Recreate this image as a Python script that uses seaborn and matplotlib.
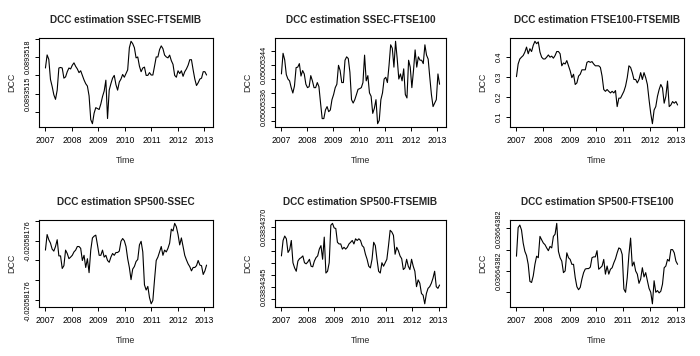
import numpy as np
import pandas as pd
import seaborn as sns
import matplotlib.pyplot as plt

# DCC series (values in axis tick units for the
# panels whose tick labels are all the same rounded number)
sse_ftsemib = [2.40, 3.11, 2.87, 1.78, 1.40, 0.95, 0.70, 1.20, 2.40, 2.43, 2.40, 1.85, 1.92, 2.20, 2.40, 2.35,
               2.55, 2.68, 2.49, 2.35, 2.15, 2.25, 2.00, 1.75, 1.55, 1.42, 0.89, -0.40, -0.62, -0.05, 0.25, 0.20,
               0.15, 0.45, 0.85, 1.15, 1.74, -0.34, 1.20, 1.55, 1.85, 2.00, 1.50, 1.20, 1.64, 1.80, 2.05, 1.90,
               2.10, 2.30, 3.50, 3.85, 3.72, 3.50, 2.95, 3.00, 2.50, 2.20, 2.40, 2.45, 2.00, 2.00, 2.15, 2.02,
               2.02, 2.50, 3.00, 3.00, 3.40, 3.60, 3.45, 3.10, 3.00, 2.95, 3.10, 2.80, 2.60, 2.00, 1.90, 2.25,
               2.10, 2.25, 1.95, 2.20, 2.35, 2.55, 2.85, 2.85, 2.30, 1.80, 1.45, 1.60, 1.80, 1.85, 2.20, 2.20, 2.02]
sse_ftse100 = [3.35, 4.81, 4.35, 3.30, 2.99, 2.86, 2.38, 2.00, 2.50, 3.80, 3.83, 4.08, 3.20, 3.59, 3.35, 2.62,
               2.38, 2.45, 3.23, 2.86, 2.38, 2.38, 2.74, 2.45, 1.29, 0.19, 0.19, 0.80, 1.04, 0.68, 0.80, 1.53,
               1.89, 2.38, 2.62, 3.96, 3.59, 2.74, 2.74, 4.32, 4.56, 4.44, 3.47, 1.53, 1.29, 1.53, 1.89, 2.26,
               2.31, 2.38, 2.74, 4.68, 2.86, 3.23, 2.01, 1.77, 0.56, 0.92, 1.53, -0.17, 0.07, 1.53, 2.01, 2.99,
               3.11, 2.74, 3.96, 5.41, 5.17, 3.83, 5.66, 4.44, 2.99, 3.35, 2.86, 3.71, 1.89, 1.65, 4.32, 3.83,
               2.38, 3.59, 5.05, 3.83, 4.56, 4.32, 4.32, 4.08, 5.41, 4.68, 4.40, 3.11, 1.89, 1.04, 1.29, 1.53,
               3.35, 2.62]
ftse100_ftsemib = [0.300, 0.363, 0.388, 0.397, 0.405, 0.422, 0.447, 0.414, 0.439, 0.425, 0.456, 0.476, 0.464,
                   0.473, 0.422, 0.397, 0.388, 0.388, 0.397, 0.408, 0.397, 0.402, 0.392, 0.405, 0.425, 0.425,
                   0.414, 0.354, 0.368, 0.363, 0.380, 0.354, 0.329, 0.295, 0.312, 0.261, 0.269, 0.303, 0.312,
                   0.334, 0.334, 0.334, 0.371, 0.376, 0.371, 0.375, 0.363, 0.354, 0.354, 0.354, 0.346, 0.303,
                   0.236, 0.227, 0.236, 0.227, 0.219, 0.227, 0.219, 0.231, 0.151, 0.193, 0.193, 0.210, 0.227,
                   0.253, 0.295, 0.354, 0.346, 0.320, 0.286, 0.286, 0.269, 0.286, 0.320, 0.286, 0.320, 0.295,
                   0.261, 0.185, 0.117, 0.066, 0.134, 0.151, 0.202, 0.236, 0.261, 0.244, 0.168, 0.202, 0.278,
                   0.151, 0.159, 0.176, 0.168, 0.176, 0.159]
sp500_ssec = [2.52, 3.30, 3.04, 2.87, 2.57, 2.47, 2.70, 3.04, 2.23, 2.23, 1.60, 1.74, 2.52, 2.35, 2.09, 2.17,
              2.26, 2.43, 2.52, 2.70, 2.70, 2.61, 2.00, 2.26, 1.65, 2.09, 1.39, 2.52, 3.13, 3.22, 3.27, 2.78,
              2.26, 2.26, 2.52, 2.17, 2.26, 2.00, 1.91, 2.17, 2.35, 2.26, 2.40, 2.40, 2.47, 2.96, 3.10, 2.99,
              2.70, 2.09, 1.65, 1.04, 1.57, 1.70, 1.95, 2.05, 2.78, 2.96, 2.43, 0.78, 0.52, 0.70, 0.14, -0.17,
              0.00, 1.04, 2.00, 2.17, 2.43, 2.70, 2.26, 2.52, 2.43, 2.61, 2.87, 3.57, 3.48, 3.86, 3.69, 3.30,
              2.78, 3.13, 2.70, 2.26, 2.03, 1.83, 1.69, 1.48, 1.65, 1.65, 1.74, 2.00, 1.77, 1.74, 1.30, 1.48, 1.77]
sp500_ftsemib = [3.57, 4.86, 5.23, 5.00, 3.86, 4.09, 4.86, 3.00, 2.57, 2.29, 3.14, 3.34, 3.43, 3.57, 3.00, 2.91,
                 3.06, 3.29, 2.71, 2.66, 3.14, 3.43, 3.57, 4.14, 4.43, 3.29, 5.14, 2.14, 2.29, 3.00, 6.14, 6.29,
                 5.91, 5.86, 4.71, 4.57, 4.57, 4.14, 4.29, 4.14, 4.29, 4.57, 4.71, 4.86, 4.57, 5.00, 4.86, 5.00,
                 4.86, 4.43, 4.29, 3.71, 3.29, 2.71, 2.57, 3.29, 4.71, 4.43, 3.29, 2.29, 2.14, 3.00, 2.71, 3.00,
                 3.29, 4.43, 5.71, 5.57, 5.29, 3.71, 4.29, 4.00, 3.57, 3.34, 2.43, 2.57, 3.29, 2.71, 2.43, 3.29,
                 2.71, 2.29, 1.00, 1.57, 1.29, 0.43, 0.29, -0.43, 0.43, 0.86, 1.00, 1.29, 1.71, 2.29, 1.00, 0.86, 1.14]
sp500_ftse100 = [1.69, 3.03, 3.15, 2.92, 2.31, 1.92, 1.72, 1.31, 0.51, 0.46, 0.77, 1.31, 1.69, 1.62, 2.62, 2.46,
                 2.31, 2.23, 2.08, 1.95, 2.15, 2.08, 2.62, 2.72, 3.23, 1.92, 1.62, 1.46, 0.92, 1.00, 1.85, 1.62,
                 1.54, 1.31, 1.31, 0.69, 0.26, 0.12, 0.23, 0.62, 0.92, 1.09, 1.11, 1.11, 1.18, 1.62, 1.66, 1.66,
                 1.95, 1.08, 1.15, 1.23, 1.54, 0.85, 1.23, 0.85, 1.08, 1.15, 1.38, 1.57, 1.85, 2.08, 2.03, 1.77,
                 0.15, 0.00, 0.69, 1.77, 2.54, 1.23, 1.42, 1.00, 0.85, 0.42, 0.62, 1.15, 0.72, 0.92, 0.54, 0.18,
                 0.00, -0.54, 0.54, 0.00, 0.08, -0.03, 0.05, 0.38, 1.15, 1.23, 1.54, 1.46, 2.00, 2.00, 1.85, 1.46, 1.31]

# last observation date of each series
end_years = [2013.08, 2013.10, 2013.04, 2013.08, 2013.04, 2013.04]

titles = ['DCC estimation SSEC-FTSEMIB', 'DCC estimation SSEC-FTSE100', 'DCC estimation FTSE100-FTSEMIB',
          'DCC estimation SP500-SSEC', 'DCC estimation SP500-FTSEMIB', 'DCC estimation SP500-FTSE100']
series = [sse_ftsemib, sse_ftse100, ftse100_ftsemib, sp500_ssec, sp500_ftsemib, sp500_ftse100]

# y ticks and the labels R managed to print on them
ytick_pos = [[0, 1, 2, 3, 4], [0, 1, 2, 3, 4, 5], [0.1, 0.2, 0.3, 0.4],
             [0, 1, 2, 3, 4], [0, 1, 2, 3, 4, 5, 6], [0, 1, 2, 3]]
ytick_lab = [['', '0.0893515', '', '0.0893518', ''],
             ['', '0.05005336', '', '', '0.05005344', ''],
             ['0.1', '0.2', '0.3', '0.4'],
             ['-0.02058176', '', '', '-0.02058176', ''],
             ['', '0.03834345', '', '', '', '', '0.03834370'],
             ['', '0.03664382', '', '0.03664382']]
years = [2007, 2008, 2009, 2010, 2011, 2012, 2013]

sns.set_style('ticks')
plt.rcParams['font.family'] = ['Liberation Sans', 'DejaVu Sans']
plt.rcParams['axes.linewidth'] = 0.8

fig = plt.figure(figsize=(7, 3.56), dpi=100)
lefts = [0.0557, 0.393, 0.7286]
widths = [0.2486, 0.244, 0.2486]
bottoms = [0.6433, 0.1376]
heights = [0.25, 0.244]

for i, (vals, title) in enumerate(zip(series, titles)):
    r, c = divmod(i, 3)
    ax = fig.add_axes([lefts[c], bottoms[r], widths[c], heights[r]])
    df = pd.DataFrame({'Time': np.linspace(2007, end_years[i], len(vals)), 'DCC': vals})
    sns.lineplot(data=df, x='Time', y='DCC', ax=ax, color='black', linewidth=0.8)
    ax.margins(x=0.04, y=0.04)
    ax.set_xticks(years)
    ax.set_xticklabels([str(y) for y in years])
    ax.set_yticks(ytick_pos[i])
    ax.set_yticklabels(ytick_lab[i], rotation=90, va='center')
    ax.tick_params(axis='both', labelsize=6.2, length=3, width=0.7, colors='black', pad=3.5)
    ax.tick_params(axis='y', labelsize=5.4 if i == 2 else 5.2, pad=2.5)
    for s in ax.spines.values():
        s.set_visible(True)
        s.set_color('black')
    ax.set_title(title, fontsize=7.2, fontweight='bold', pad=11)
    ax.set_xlabel('Time', fontsize=6.4, labelpad=8)
    ax.set_ylabel('DCC', fontsize=6.4, labelpad=6)

fig.savefig('out.png', dpi=100)
